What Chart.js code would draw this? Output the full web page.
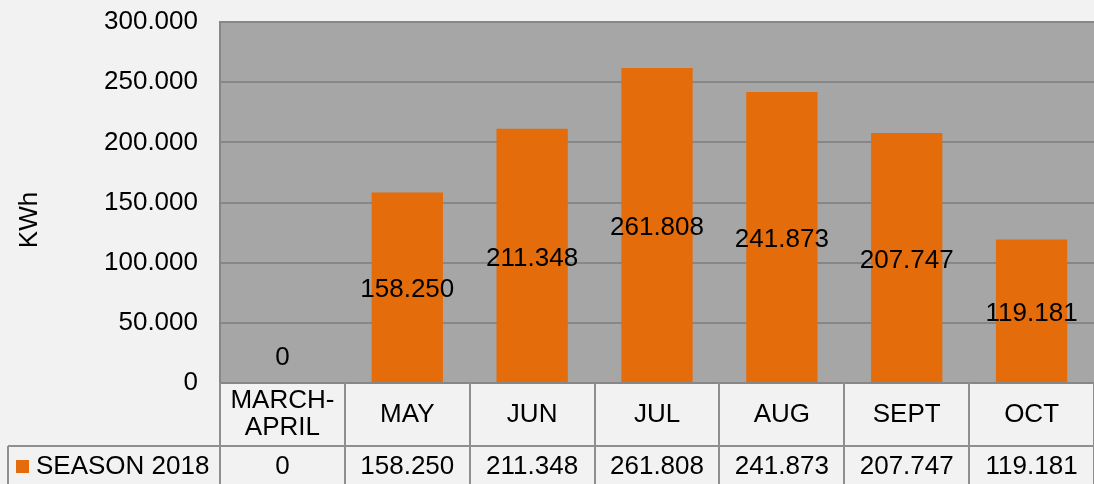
<!DOCTYPE html>
<html>
<head>
<meta charset="utf-8">
<script src="https://cdn.jsdelivr.net/npm/chart.js@4/dist/chart.umd.min.js"></script>
<style>
  html, body { margin: 0; padding: 0; background: #f2f2f2; }
  #wrap { width: 1094px; height: 484px; position: relative; }
</style>
</head>
<body>
<div id="wrap"><canvas id="kwhChart"></canvas></div>
<script>
// chart data
const categories = [['MARCH-', 'APRIL'], 'MAY', 'JUN', 'JUL', 'AUG', 'SEPT', 'OCT'];
const seasonValues = [0, 158250, 211348, 261808, 241873, 207747, 119181]; // KWh per month
const seriesName = 'SEASON 2018';
const axisTitle = 'KWh';
const yMin = 0;
const yMax = 300000;
const yStep = 50000;

const barColor = '#e46c0a';
const plotBg = '#a6a6a6';
const gridColor = '#878787';
const tableLine = '#8f8f8f';
const fontFamily = '"Liberation Sans", Arial, sans-serif';
const fontSize = 26;

// 158250 -> "158.250"
function fmt(v) {
    return String(v).replace(/\B(?=(\d{3})+(?!\d))/g, '.');
}

// grey plot area
const plotBackground = {
    id: 'plotBackground',
    beforeDraw(chart) {
        const a = chart.chartArea;
        const ctx = chart.ctx;
        ctx.save();
        ctx.fillStyle = plotBg;
        ctx.fillRect(a.left, a.top, a.right - a.left, a.bottom - a.top);
        ctx.restore();
    }
};

// value labels in the middle of each bar
const barLabels = {
    id: 'barLabels',
    afterDatasetsDraw(chart) {
        const ctx = chart.ctx;
        const meta = chart.getDatasetMeta(0);
        ctx.save();
        ctx.font = fontSize + 'px ' + fontFamily;
        ctx.fillStyle = '#000';
        ctx.textAlign = 'center';
        ctx.textBaseline = 'middle';
        meta.data.forEach(function (bar, i) {
            const v = seasonValues[i];
            let y = (bar.y + bar.base) / 2 + 3;
            if (bar.base - bar.y < 40) {
                y = bar.base - 25;
            }
            ctx.fillText(fmt(v), bar.x, y);
        });
        ctx.restore();
    }
};

// data table under the chart + y axis title
const dataTable = {
    id: 'dataTable',
    afterDraw(chart) {
        const ctx = chart.ctx;
        const a = chart.chartArea;
        const xs = chart.scales.x;
        const colW = (a.right - a.left) / categories.length;
        const rowTop = a.bottom;
        const rowMid = a.bottom + 63;
        const bottom = chart.height;

        ctx.save();
        ctx.strokeStyle = tableLine;
        ctx.lineWidth = 2;

        // vertical column lines
        for (let i = 0; i <= categories.length; i++) {
            const x = Math.round(a.left + i * colW);
            ctx.beginPath();
            ctx.moveTo(x, rowTop);
            ctx.lineTo(x, bottom);
            ctx.stroke();
        }
        // horizontal line between rows
        ctx.beginPath();
        ctx.moveTo(8, rowMid);
        ctx.lineTo(a.right, rowMid);
        ctx.stroke();
        // legend cell left border
        ctx.beginPath();
        ctx.moveTo(8, rowMid);
        ctx.lineTo(8, bottom);
        ctx.stroke();

        ctx.font = fontSize + 'px ' + fontFamily;
        ctx.fillStyle = '#000';
        ctx.textAlign = 'center';
        ctx.textBaseline = 'middle';

        // category labels
        categories.forEach(function (c, i) {
            const x = xs.getPixelForValue(i);
            if (Array.isArray(c)) {
                ctx.fillText(c[0], x, rowTop + 18);
                ctx.fillText(c[1], x, rowTop + 45);
            } else {
                ctx.fillText(c, x, rowTop + 32);
            }
        });

        // values row
        const valY = rowMid + 21;
        seasonValues.forEach(function (v, i) {
            ctx.fillText(fmt(v), xs.getPixelForValue(i), valY);
        });

        // legend key
        ctx.fillStyle = barColor;
        ctx.fillRect(16, valY - 7, 13, 13);
        ctx.fillStyle = '#000';
        ctx.textAlign = 'left';
        ctx.fillText(seriesName, 36, valY);

        // y axis title
        ctx.translate(30, 220);
        ctx.rotate(-Math.PI / 2);
        ctx.textAlign = 'center';
        ctx.fillText(axisTitle, 0, 0);
        ctx.restore();
    }
};

const ctx = document.getElementById('kwhChart');

const kwhChart = new Chart(ctx, {
    type: 'bar',
    data: {
        labels: categories,
        datasets: [{
            label: seriesName,
            data: seasonValues,
            backgroundColor: barColor,
            borderWidth: 0,
            categoryPercentage: 1,
            barPercentage: 0.571
        }]
    },
    options: {
        responsive: true,
        maintainAspectRatio: false,
        animation: false,
        layout: {
            padding: { top: 22, bottom: 101, left: 0, right: 0 }
        },
        plugins: {
            legend: { display: false },
            tooltip: { enabled: false }
        },
        scales: {
            x: {
                display: false
            },
            y: {
                min: yMin,
                max: yMax,
                afterFit: function (axis) {
                    axis.width = 220;
                    axis.paddingTop = 0;
                    axis.paddingBottom = 0;
                },
                ticks: {
                    stepSize: yStep,
                    padding: 22,
                    color: '#000',
                    font: { family: fontFamily, size: fontSize },
                    callback: function (v) { return fmt(v); }
                },
                grid: {
                    color: gridColor,
                    lineWidth: 2,
                    drawTicks: false
                },
                border: {
                    display: true,
                    color: gridColor,
                    width: 2
                }
            }
        }
    },
    plugins: [plotBackground, barLabels, dataTable]
});
</script>
</body>
</html>
